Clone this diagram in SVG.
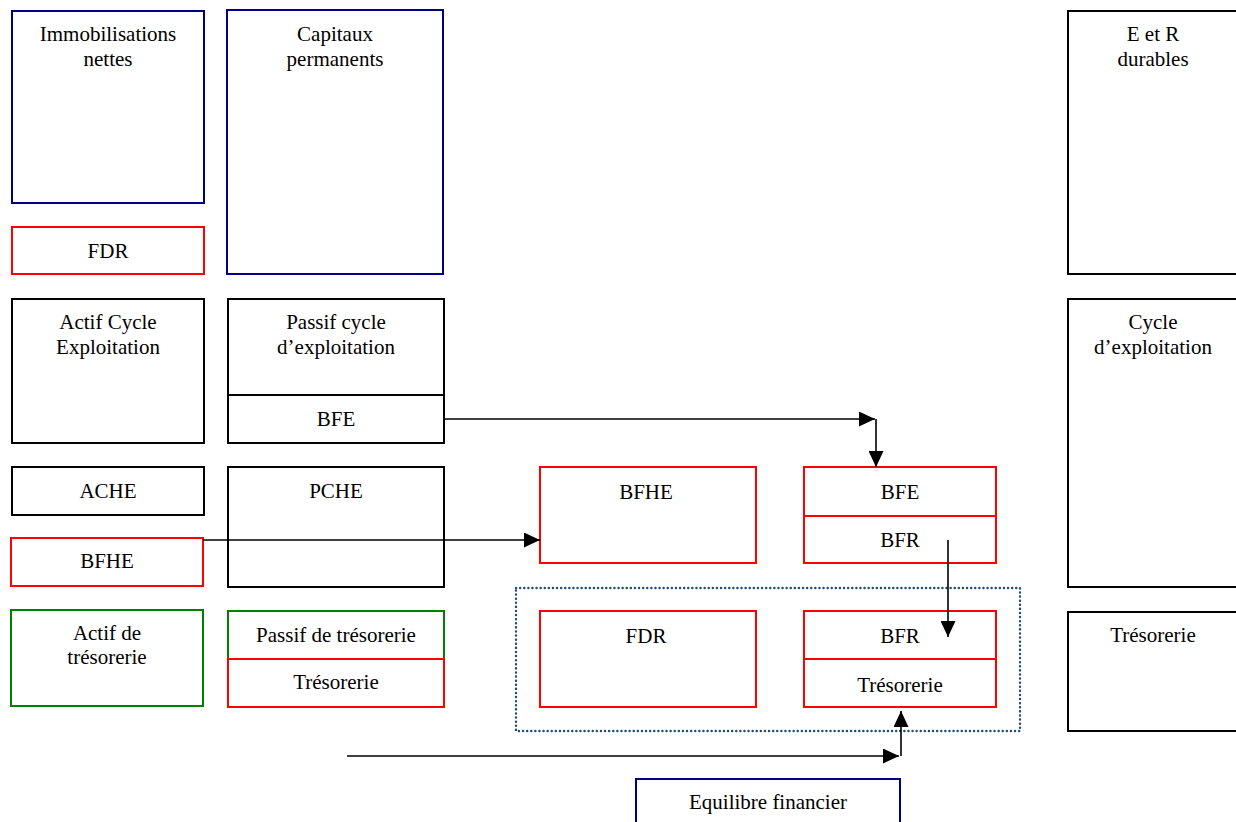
<svg xmlns="http://www.w3.org/2000/svg" width="1236" height="822" viewBox="0 0 1236 822">
<style>
text{font-family:"Liberation Serif","Times New Roman",serif;font-size:21px;fill:#000;text-anchor:middle}
rect{fill:none;stroke-width:2}
.nv{stroke:#000080}
.rd{stroke:#ff0000}
.gr{stroke:#008000}
.bk{stroke:#000}
.dot{stroke:#1f4e79;stroke-width:2.4;stroke-dasharray:0.1 4;stroke-linecap:round}
.cn{stroke:#000;stroke-width:1.6;fill:none}
</style>
<defs>
<marker id="ah" viewBox="0 0 16 15" refX="16" refY="7.5" markerWidth="16" markerHeight="15" orient="auto" markerUnits="userSpaceOnUse"><path d="M0,0 L16,7.5 L0,15 z" fill="#000"/></marker>
</defs>
<rect x="0" y="0" width="1236" height="822" style="fill:#fff;stroke:none"/>
<g id="immobilisations"><rect class="nv" x="12" y="11" width="192" height="192"/><text x="108" y="41">Immobilisations</text><text x="108" y="66">nettes</text></g>
<g id="fdr-left"><rect class="rd" x="12" y="227" width="192" height="47"/><text x="108" y="258">FDR</text></g>
<g id="capitaux"><rect class="nv" x="227" y="10" width="216" height="264"/><text x="335" y="41">Capitaux</text><text x="335" y="66">permanents</text></g>
<g id="actif-cycle"><rect class="bk" x="12" y="299" width="192" height="144"/><text x="108" y="329">Actif Cycle</text><text x="108" y="354">Exploitation</text></g>
<g id="passif-cycle"><rect class="bk" x="228" y="299" width="216" height="144"/><line class="bk" x1="228" y1="395" x2="444" y2="395" stroke-width="2"/><text x="336" y="329">Passif cycle</text><text x="336" y="354">d’exploitation</text><text x="336" y="426">BFE</text></g>
<g id="ache"><rect class="bk" x="12" y="467" width="192" height="48"/><text x="108" y="498">ACHE</text></g>
<g id="pche"><rect class="bk" x="228" y="467" width="216" height="120"/><text x="336" y="498">PCHE</text></g>
<g id="bfhe-left"><rect class="rd" x="11" y="538" width="192" height="48"/><text x="107" y="568">BFHE</text></g>
<g id="actif-treso"><rect class="gr" x="11" y="610" width="192" height="96"/><text x="107" y="640">Actif de</text><text x="107" y="664">trésorerie</text></g>
<g id="passif-treso"><rect class="gr" x="228" y="611" width="216" height="48"/><rect class="rd" x="228" y="659" width="216" height="48"/><text x="336" y="642">Passif de trésorerie</text><text x="336" y="689">Trésorerie</text></g>
<g id="bfhe-mid"><rect class="rd" x="540" y="467" width="216" height="96"/><text x="646" y="499">BFHE</text></g>
<g id="bfe-bfr"><rect class="rd" x="804" y="467" width="192" height="96"/><line class="rd" x1="804" y1="516" x2="996" y2="516" stroke-width="2"/><text x="900" y="499">BFE</text><text x="900" y="547">BFR</text></g>
<g id="equilibre-group"><rect class="dot" x="516" y="588" width="504" height="143"/></g>
<g id="fdr-mid"><rect class="rd" x="540" y="611" width="216" height="96"/><text x="646" y="643">FDR</text></g>
<g id="bfr-treso"><rect class="rd" x="804" y="611" width="192" height="96"/><line class="rd" x1="804" y1="659" x2="996" y2="659" stroke-width="2"/><text x="900" y="643">BFR</text><text x="900" y="692">Trésorerie</text></g>
<g id="equilibre"><rect class="nv" x="636" y="779" width="264" height="50"/><text x="768" y="809">Equilibre financier</text></g>
<g id="e-r-durables"><rect class="bk" x="1068" y="11" width="172" height="263"/><text x="1153" y="41">E et R</text><text x="1153" y="66">durables</text></g>
<g id="cycle-exploitation"><rect class="bk" x="1068" y="299" width="172" height="288"/><text x="1153" y="329">Cycle</text><text x="1153" y="354">d’exploitation</text></g>
<g id="tresorerie-right"><rect class="bk" x="1068" y="612" width="172" height="119"/><text x="1153" y="642">Trésorerie</text></g>
<g id="connectors">
<path class="cn" d="M444,419 H875" marker-end="url(#ah)"/>
<path class="cn" d="M876,419 V467" marker-end="url(#ah)"/>
<path class="cn" d="M203,540 H540" marker-end="url(#ah)"/>
<path class="cn" d="M948,540 V637" marker-end="url(#ah)"/>
<path class="cn" d="M347,756 H899" marker-end="url(#ah)"/>
<path class="cn" d="M901,756 V711" marker-end="url(#ah)"/>
</g>
</svg>
